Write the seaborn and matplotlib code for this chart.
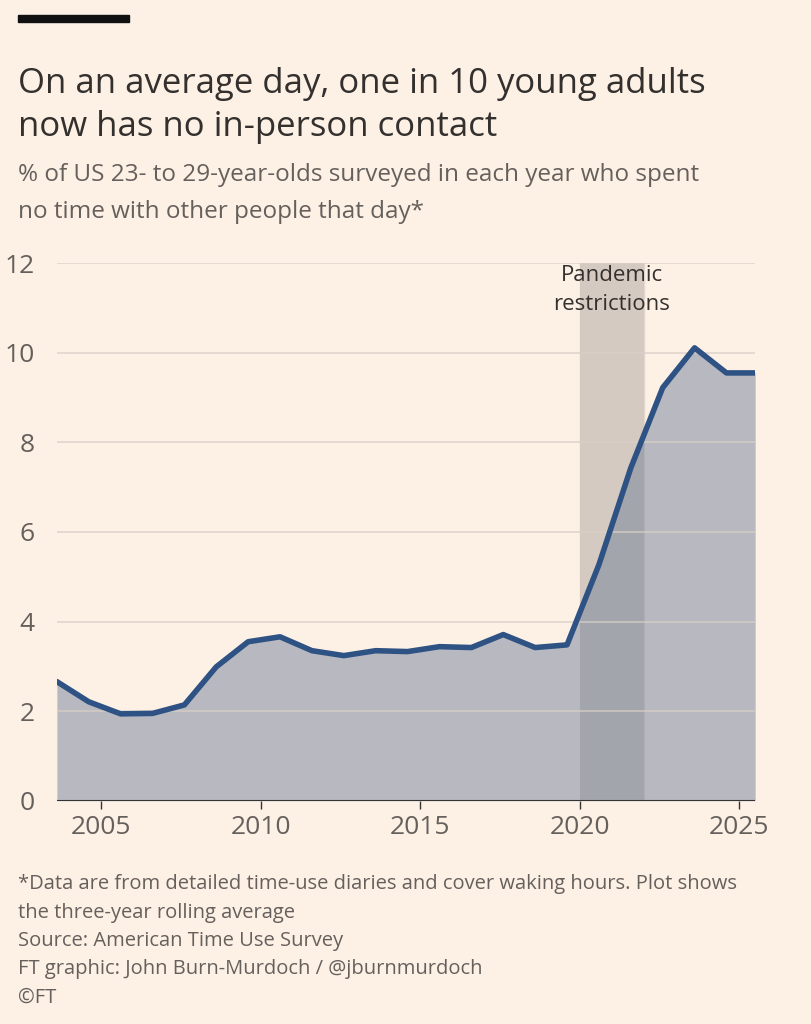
import matplotlib
matplotlib.use("Agg")
import matplotlib.pyplot as plt
import seaborn as sns

# valores (media movil de tres años)
years = [2003.6, 2004.6, 2005.6, 2006.6, 2007.6, 2008.6, 2009.6, 2010.6, 2011.6,
         2012.6, 2013.6, 2014.6, 2015.6, 2016.6, 2017.6, 2018.6, 2019.6, 2020.6,
         2021.6, 2022.6, 2023.6, 2024.6, 2025.5]
pct = [2.66, 2.21, 1.94, 1.95, 2.14, 2.99, 3.55, 3.66, 3.35, 3.24, 3.35, 3.33,
       3.44, 3.42, 3.71, 3.42, 3.48, 5.27, 7.43, 9.22, 10.11, 9.55, 9.55]
pandemia = [2020.0, 2022.0]
x_ticks = [2005, 2010, 2015, 2020, 2025]
y_ticks = [0, 2, 4, 6, 8, 10, 12]

bg = "#FDF1E6"
sns.set_theme(style="white")
plt.rcParams["font.family"] = ["Open Sans", "DejaVu Sans"]

fig = plt.figure(figsize=(8.12, 10.24), dpi=100, facecolor=bg)
ax = fig.add_axes([0.070, 0.218, 0.86, 0.525], facecolor=bg)

ax.axvspan(pandemia[0], pandemia[1], color="#E3D7CE", zorder=0)
ax.fill_between(years, pct, color="#8E98AA", alpha=0.62, zorder=1, lw=0)
# solapamiento algo mas oscuro
ax.axvspan(pandemia[0], pandemia[1], color="#000000", alpha=0.06, zorder=1.5, lw=0)
sns.lineplot(x=years, y=pct, ax=ax, color="#2E5283", lw=4, zorder=3)

for y in y_ticks:
    ax.axhline(y, color="#D8CFC7" if y else "#333333", lw=1.2 if y else 1.5,
               alpha=0.8 if y else 1, zorder=2)

ax.set_xlim(years[0], years[-1])
ax.set_ylim(0, 12)
ax.set_xticks(x_ticks)
ax.set_yticks(y_ticks)
ax.tick_params(axis="x", labelsize=19, colors="#66605C", length=6, width=1, direction="out", pad=4)
ax.tick_params(axis="y", labelsize=19, colors="#66605C", length=0, pad=16)
ax.tick_params(axis="x", bottom=True, color="#333333")
for s in ax.spines.values():
    s.set_visible(False)
ax.set_xlabel("")
ax.set_ylabel("")

ax.text(2021.0, 11.4, "Pandemic\nrestrictions", ha="center", va="center", fontsize=16,
        color="#33302E", linespacing=1.45)

fig.patches.append(plt.Rectangle((0.022, 0.979), 0.137, 0.006, transform=fig.transFigure,
                                 color="#111111"))
fig.text(0.022, 0.935, "On an average day, one in 10 young adults\nnow has no in-person contact",
         fontsize=25, color="#33302E", va="top", linespacing=1.35)
fig.text(0.022, 0.841, "% of US 23- to 29-year-olds surveyed in each year who spent\nno time with other people that day*",
         fontsize=17.5, color="#66605C", va="top", linespacing=1.75)
fig.text(0.022, 0.146,
         "*Data are from detailed time-use diaries and cover waking hours. Plot shows\n"
         "the three-year rolling average\nSource: American Time Use Survey\n"
         "FT graphic: John Burn-Murdoch / @jburnmurdoch\n©FT",
         fontsize=14.5, color="#66605C", va="top", linespacing=1.55)

fig.savefig("out.png", dpi=100, facecolor=bg)
